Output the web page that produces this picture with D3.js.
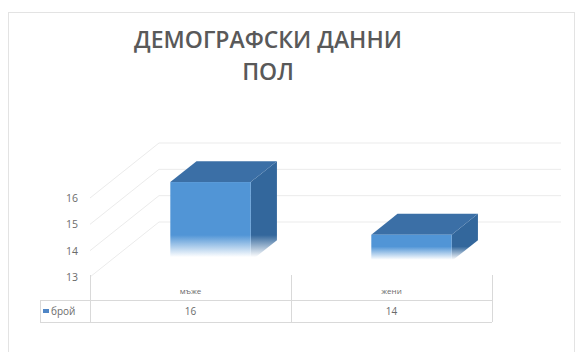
<!DOCTYPE html>
<html>
<head>
<meta charset="utf-8">
<script src="https://cdn.jsdelivr.net/npm/d3@7"></script>
<style>
  html, body { margin: 0; padding: 0; background: #fff; }
  svg { display: block; }
  text { font-family: "Open Sans", "Liberation Sans", sans-serif; }
</style>
</head>
<body>
<svg id="chart" width="581" height="352"></svg>
<script>
// Chart data
const titleLines = ["ДЕМОГРАФСКИ ДАННИ", "ПОЛ"];
const categories = ["мъже", "жени"];
const values = [16, 14];
const seriesName = "брой";
const yTicks = [13, 14, 15, 16];

const svg = d3.select("#chart");

// Outer chart frame
svg.append("rect")
  .attr("x", 8.5).attr("y", 12.5)
  .attr("width", 566).attr("height", 350)
  .attr("fill", "#fff")
  .attr("stroke", "#e3e3e3");

// Title
svg.append("g").selectAll("text")
  .data(titleLines)
  .join("text")
  .attr("x", 268)
  .attr("y", (d, i) => 48 + i * 32)
  .attr("text-anchor", "middle")
  .attr("font-size", 23)
  .attr("font-weight", 600)
  .attr("fill", "#595959")
  .text(d => d);

// Oblique 3D projection: front plane scales plus depth offset
const x = d3.scaleBand().domain(categories).range([90, 492]);
const y = d3.scaleLinear().domain([13, 16]).range([277, 198]);
const DX = 69, DY = 55;            // full depth offset of the back wall
const zFront = 0.29, zBack = 0.67; // bar depth within the floor
const barFrac = 0.4;               // bar width as a fraction of the band

const P = (px, v, z) => [px + z * DX, y(v) - z * DY];

// Gridlines: diagonal on the side wall, horizontal on the back wall
const grid = svg.append("g")
  .attr("fill", "none")
  .attr("stroke", "#ebebeb")
  .attr("stroke-width", 1);
yTicks.forEach(t => {
  const a = P(x.range()[0], t, 0);
  const b = P(x.range()[0], t, 1);
  const c = P(x.range()[1], t, 1);
  grid.append("path").attr("d", d3.line()([a, b, c]));
});

// Y tick labels
svg.append("g").selectAll("text")
  .data(yTicks)
  .join("text")
  .attr("x", 78)
  .attr("y", d => y(d) + 4)
  .attr("text-anchor", "end")
  .attr("font-size", 10.5)
  .attr("fill", "#6b6b6b")
  .text(d => d);

// Bars
const defs = svg.append("defs");
const base = y.domain()[0];
const bars = svg.append("g");

categories.forEach((cat, i) => {
  const v = values[i];
  const bw = x.bandwidth() * barFrac;
  const x0 = x(cat) + (x.bandwidth() - bw) / 2;
  const x1 = x0 + bw;

  const ft = P(x0, v, zFront), fb = P(x0, base, zFront);
  const h = fb[1] - ft[1];
  const solid = Math.min(26, 0.55 * h);
  const fadeStart = 1 - solid / h;

  // vertical fade toward the floor
  const mkGrad = (id, color) => {
    const g = defs.append("linearGradient")
      .attr("id", id)
      .attr("gradientUnits", "userSpaceOnUse")
      .attr("x1", 0).attr("x2", 0)
      .attr("y1", ft[1]).attr("y2", fb[1]);
    g.append("stop").attr("offset", 0).attr("stop-color", color);
    g.append("stop").attr("offset", fadeStart).attr("stop-color", color);
    g.append("stop").attr("offset", 0.95).attr("stop-color", "#ffffff");
    g.append("stop").attr("offset", 1).attr("stop-color", "#ffffff");
  };
  mkGrad("front" + i, "#5195d6");
  mkGrad("side" + i, "#33679c");

  // side face
  const side = [P(x1, v, zFront), P(x1, v, zBack), P(x1, base, zBack), P(x1, base, zFront)];
  bars.append("path")
    .attr("d", d3.line()(side) + "Z")
    .attr("fill", `url(#side${i})`);

  // top face
  const top = [P(x0, v, zFront), P(x0, v, zBack), P(x1, v, zBack), P(x1, v, zFront)];
  bars.append("path")
    .attr("d", d3.line()(top) + "Z")
    .attr("fill", "#3b6fa6");

  // front face
  bars.append("rect")
    .attr("x", ft[0]).attr("y", ft[1])
    .attr("width", bw).attr("height", h)
    .attr("fill", `url(#front${i})`);
});

// Data table under the plot
const tTop = y(base), tMid = 300, tBot = 322, tLeft = 40;
const [xa, xb] = x.range();
const tbl = svg.append("g").attr("stroke", "#d9d9d9").attr("fill", "none");
tbl.append("line").attr("x1", tLeft).attr("x2", xb).attr("y1", tMid + 0.5).attr("y2", tMid + 0.5);
tbl.append("line").attr("x1", tLeft).attr("x2", xb).attr("y1", tBot + 0.5).attr("y2", tBot + 0.5);
tbl.append("line").attr("x1", tLeft + 0.5).attr("x2", tLeft + 0.5).attr("y1", tMid).attr("y2", tBot);
[xa, ...categories.map(c => x(c) + x.bandwidth())].forEach(px => {
  tbl.append("line")
    .attr("x1", Math.round(px) + 0.5).attr("x2", Math.round(px) + 0.5)
    .attr("y1", tTop - 2).attr("y2", tBot);
});

// Category labels
svg.append("g").selectAll("text")
  .data(categories)
  .join("text")
  .attr("x", d => x(d) + x.bandwidth() / 2)
  .attr("y", 294)
  .attr("text-anchor", "middle")
  .attr("font-size", 8)
  .attr("fill", "#6b6b6b")
  .text(d => d);

// Values row
svg.append("g").selectAll("text")
  .data(values)
  .join("text")
  .attr("x", (d, i) => x(categories[i]) + x.bandwidth() / 2)
  .attr("y", 315)
  .attr("text-anchor", "middle")
  .attr("font-size", 10)
  .attr("fill", "#6b6b6b")
  .text(d => d);

// Legend key in the table
svg.append("rect")
  .attr("x", 43).attr("y", 309)
  .attr("width", 6).attr("height", 4)
  .attr("fill", "#4f86c6");
svg.append("text")
  .attr("x", 51).attr("y", 315)
  .attr("font-size", 10)
  .attr("fill", "#6b6b6b")
  .text(seriesName);
</script>
</body>
</html>
